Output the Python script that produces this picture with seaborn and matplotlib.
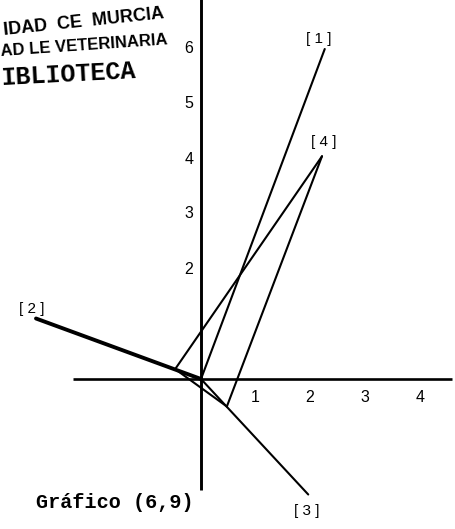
import numpy as np
import pandas as pd
import matplotlib
matplotlib.use("Agg")
import matplotlib.pyplot as plt
import seaborn as sns

# Labelled points of the configuration
point_labels = ["[1]", "[2]", "[3]", "[4]"]
point_x = [2.25, -3.0, 1.95, 2.2]
point_y = [6.0, 1.1, -2.1, 4.05]

# Base vertices of the triangle that reaches point [4]
tri_x = [-0.47, 0.47]
tri_y = [0.18, -0.5]

x_ticks = [1, 2, 3, 4]
y_ticks = [2, 3, 4, 5, 6]
caption = "Gráfico (6,9)"
stamp_lines = ["IDAD  CE  MURCIA", "AD LE VETERINARIA", "IBLIOTECA"]

sns.set_theme(style="white")
plt.rcParams["font.family"] = ["Liberation Sans Narrow", "Liberation Sans", "DejaVu Sans"]

W, H, DPI = 456, 529, 100
fig = plt.figure(figsize=(W / DPI, H / DPI), dpi=DPI)
fig.patch.set_facecolor("white")
ax = fig.add_axes([0, 0, 1, 1])
ax.set_facecolor("white")

# screen placement of the origin and size of one unit
ox, oy, unit = 201, 379, 55
ax.set_xlim(-ox / unit, (W - ox) / unit)
ax.set_ylim(-(H - oy) / unit, oy / unit)
ax.axis("off")

# coordinate axes
ax.plot([-2.33, 4.56], [0, 0], color="black", lw=1.9, solid_capstyle="butt")
ax.plot([0, 0], [-2.02, 6.9], color="black", lw=2.1, solid_capstyle="butt")

# segment table: rays from the origin and the triangle to [4]
lab = dict(zip(point_labels, zip(point_x, point_y)))
A = (tri_x[0], tri_y[0])
B = (tri_x[1], tri_y[1])
segments = [
    ("r1", (0, 0), lab["[1]"], "thin"),
    ("r2", (0, 0), lab["[2]"], "thick"),
    ("r3", (0, 0), lab["[3]"], "thin"),
    ("t1", lab["[4]"], A, "thin"),
    ("t2", A, B, "thin"),
    ("t3", B, lab["[4]"], "thin"),
]
rows = []
for name, p, q, w in segments:
    rows.append({"seg": name, "x": p[0], "y": p[1], "w": w})
    rows.append({"seg": name, "x": q[0], "y": q[1], "w": w})
df = pd.DataFrame(rows)

sns.lineplot(data=df[df.w == "thin"], x="x", y="y", units="seg", estimator=None,
             sort=False, color="black", lw=1.5, ax=ax, legend=False)
sns.lineplot(data=df[df.w == "thick"], x="x", y="y", units="seg", estimator=None,
             sort=False, color="black", lw=2.8, ax=ax, legend=False)
ax.set_xlabel("")
ax.set_ylabel("")
ax.axis("off")

# point labels
offsets = {"[1]": (-6, 10), "[2]": (-4, 10), "[3]": (-2, -16), "[4]": (2, 14)}
for name in point_labels:
    ax.annotate(name.replace("[", "[ ").replace("]", " ]"), lab[name],
                xytext=offsets[name], textcoords="offset pixels",
                ha="center", va="center", fontsize=11, color="black")

# axis numbers
for t in x_ticks:
    ax.annotate(str(t), (t, 0), xytext=(-1, -18), textcoords="offset pixels",
                ha="center", va="center", fontsize=11.5, color="black")
for t in y_ticks:
    ax.annotate(str(t), (0, t), xytext=(-12, 0), textcoords="offset pixels",
                ha="center", va="center", fontsize=11.5, color="black")

# caption
fig.text(115 / W, 1 - 502 / H, caption, ha="center", va="center",
         fontsize=14.5, family=["Liberation Mono", "DejaVu Sans Mono"],
         fontweight="bold", color="black")

# library stamp
fig.text(3 / W, 1 - 22 / H, stamp_lines[0], ha="left", va="center",
         fontsize=13, fontweight="bold", rotation=6, color="black")
fig.text(0 / W, 1 - 46 / H, stamp_lines[1], ha="left", va="center",
         fontsize=12, fontweight="bold", rotation=4, color="black")
fig.text(0 / W, 1 - 74 / H, stamp_lines[2], ha="left", va="center",
         fontsize=18, fontweight="bold", rotation=3, color="black",
         family=["Liberation Mono", "DejaVu Sans Mono"])

fig.savefig("out.png", dpi=DPI, facecolor="white")
